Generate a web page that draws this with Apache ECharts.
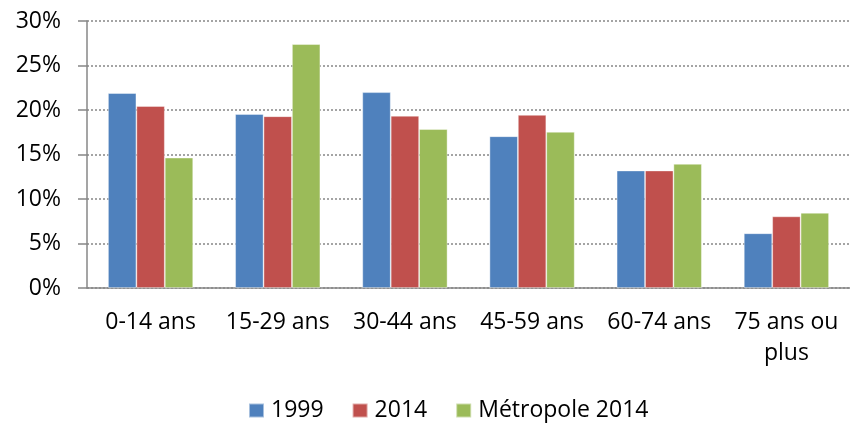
<!DOCTYPE html>
<html>
<head>
<meta charset="utf-8">
<script src="https://cdn.jsdelivr.net/npm/echarts@6/dist/echarts.min.js"></script>
<style>
  html, body { margin: 0; padding: 0; background: #fff; }
  #chart { width: 850px; height: 425px; }
</style>
</head>
<body>
<div id="chart"></div>
<script>
// tranches d'âge
const categories = ['0-14 ans', '15-29 ans', '30-44 ans', '45-59 ans', '60-74 ans', '75 ans ou plus'];

// parts en %
const values1999 = [21.9, 19.55, 22.0, 17.05, 13.2, 6.15];
const values2014 = [20.45, 19.3, 19.35, 19.45, 13.2, 8.05];
const valuesMetropole = [14.65, 27.4, 17.85, 17.55, 13.95, 8.45];

const yTicks = { min: 0, max: 30, interval: 5 };

const font = '"Open Sans", "Liberation Sans", sans-serif';
const axisGrey = '#878787';

const chart = echarts.init(document.getElementById('chart'));

chart.setOption({
    animation: false,
    backgroundColor: '#fff',
    textStyle: { fontFamily: font },
    grid: { left: 87, top: 21, right: -9, bottom: 137 },
    legend: {
        left: 248,
        top: 399,
        padding: 0,
        icon: 'rect',
        itemWidth: 15,
        itemHeight: 14,
        itemGap: 28,
        textStyle: { fontSize: 23, color: '#000', fontFamily: font, padding: [0, 0, 0, 2] },
        data: ['1999', '2014', 'Métropole 2014']
    },
    xAxis: {
        type: 'category',
        data: categories,
        axisLine: { lineStyle: { color: axisGrey, width: 1.5 } },
        axisTick: { length: 9, lineStyle: { color: axisGrey, width: 1.5 } },
        axisLabel: {
            interval: 0,
            margin: 19,
            fontSize: 23,
            lineHeight: 31,
            color: '#000',
            fontFamily: font,
            formatter: v => v.replace(' ou ', ' ou\n')
        }
    },
    yAxis: {
        type: 'value',
        min: yTicks.min,
        max: yTicks.max,
        interval: yTicks.interval,
        axisLine: { show: true, lineStyle: { color: axisGrey, width: 1.5 } },
        axisTick: { show: true, length: 9, lineStyle: { color: axisGrey, width: 1.5 } },
        axisLabel: { margin: 26, fontSize: 23, color: '#000', fontFamily: font, formatter: '{value}%' },
        splitLine: { lineStyle: { color: axisGrey, type: [2, 2], width: 1.5 } }
    },
    series: [
        { name: '1999', type: 'bar', data: values1999, barGap: '0%', barCategoryGap: '33%',
          itemStyle: { color: '#4F81BD', borderColor: 'rgba(255,255,255,0.5)', borderWidth: 0.8 } },
        { name: '2014', type: 'bar', data: values2014,
          itemStyle: { color: '#C0504D', borderColor: 'rgba(255,255,255,0.5)', borderWidth: 0.8 } },
        { name: 'Métropole 2014', type: 'bar', data: valuesMetropole,
          itemStyle: { color: '#9BBB59', borderColor: 'rgba(255,255,255,0.5)', borderWidth: 0.8 } }
    ]
});
</script>
</body>
</html>
